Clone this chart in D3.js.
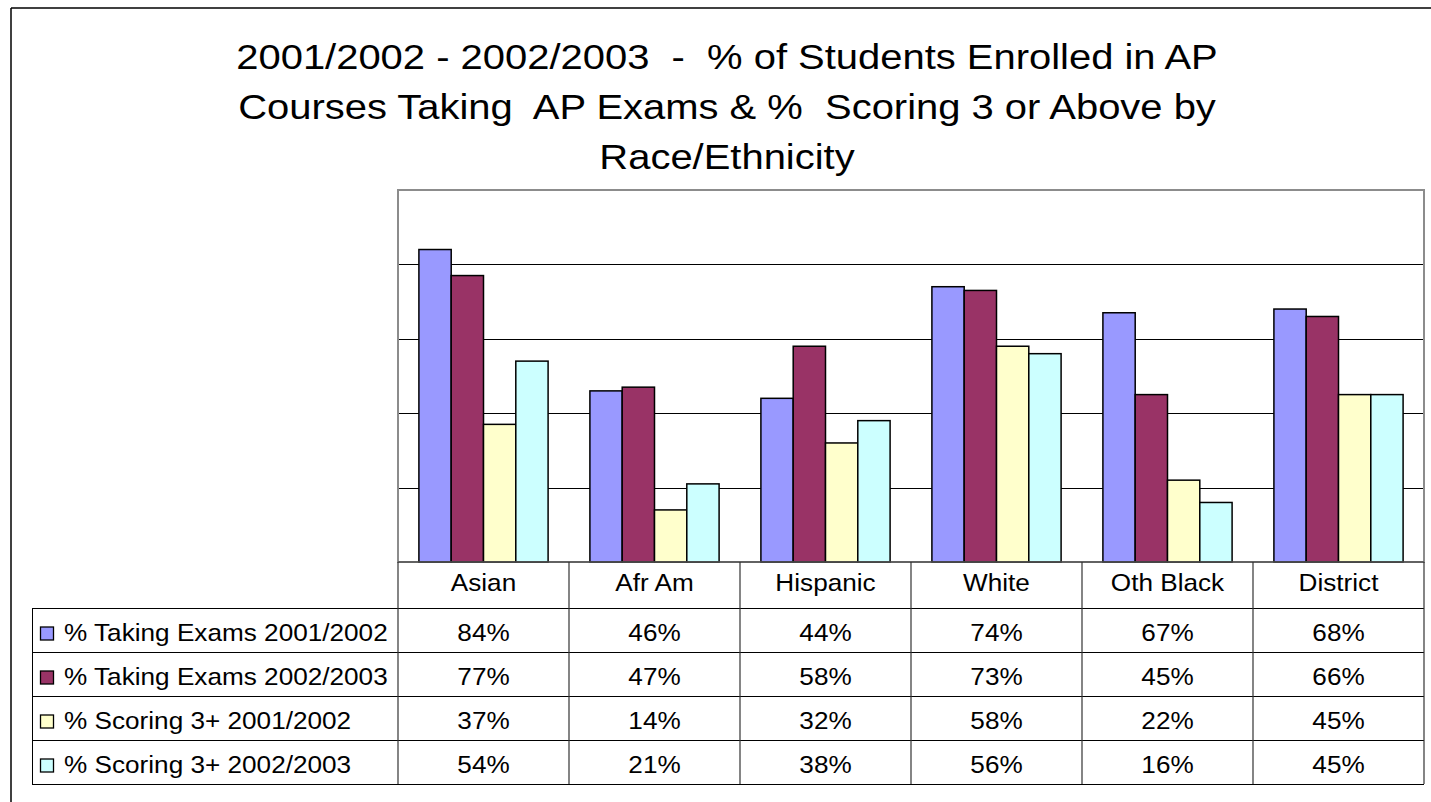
<!DOCTYPE html>
<html>
<head>
<meta charset="utf-8">
<script src="https://cdn.jsdelivr.net/npm/d3@7/dist/d3.min.js"></script>
<style>
  html, body { margin: 0; padding: 0; background: #fff; }
  svg { display: block; }
  text { font-family: Arial, "Liberation Sans", sans-serif; fill: #000; white-space: pre; }
</style>
</head>
<body>
<svg id="chart" width="1431" height="802"></svg>
<script>
// ---- data ----
const titleLines = [
  "2001/2002 - 2002/2003  -  % of Students Enrolled in AP",
  "Courses Taking  AP Exams & %  Scoring 3 or Above by",
  "Race/Ethnicity"
];
const categories = ["Asian", "Afr Am", "Hispanic", "White", "Oth Black", "District"];
const seriesNames = [
  "% Taking Exams 2001/2002",
  "% Taking Exams 2002/2003",
  "% Scoring 3+ 2001/2002",
  "% Scoring 3+ 2002/2003"
];
const taking0102 = [84, 46, 44, 74, 67, 68];
const taking0203 = [77, 47, 58, 73, 45, 66];
const scoring0102 = [37, 14, 32, 58, 22, 45];
const scoring0203 = [54, 21, 38, 56, 16, 45];
const seriesColors = ["#9999FF", "#993366", "#FFFFCC", "#CCFFFF"];
const yTicks = [0, 20, 40, 60, 80, 100];

const seriesValues = [taking0102, taking0203, scoring0102, scoring0203];

// ---- layout ----
const svg = d3.select("#chart");
const plot = { left: 398, right: 1424, top: 190, bottom: 562 };
const rowH = 44;
const tableTop = 608;
const legendLeft = 32;
const sxTitle = 1.11;
const sx = 1.09;

// outer frame (top + left edges visible)
svg.append("line").attr("x1", 11).attr("x2", 1431).attr("y1", 8).attr("y2", 8)
  .attr("stroke", "#000").attr("stroke-width", 1.5);
svg.append("line").attr("x1", 11).attr("x2", 11).attr("y1", 8).attr("y2", 802)
  .attr("stroke", "#000").attr("stroke-width", 1.5);

// title
const titleG = svg.append("g");
titleLines.forEach((t, i) => {
  titleG.append("text")
    .attr("transform", `translate(727,${69 + i * 50}) scale(${sxTitle},1)`)
    .attr("text-anchor", "middle")
    .attr("font-size", 36)
    .text(t);
});

// scales
const x0 = d3.scaleBand().domain(categories).range([plot.left, plot.right]).padding(0);
const x1 = d3.scaleBand().domain(seriesNames).range([0, x0.bandwidth()])
  .paddingInner(0).paddingOuter(0.647);
const y = d3.scaleLinear().domain([0, 100]).range([plot.bottom, plot.top]);

// gridlines
svg.append("g").selectAll("line")
  .data(yTicks.filter(d => d > 0 && d < 100))
  .join("line")
  .attr("x1", plot.left).attr("x2", plot.right)
  .attr("y1", d => Math.round(y(d)) + 0.5).attr("y2", d => Math.round(y(d)) + 0.5)
  .attr("stroke", "#000").attr("stroke-width", 1);

// plot border
svg.append("rect")
  .attr("x", plot.left).attr("y", plot.top)
  .attr("width", plot.right - plot.left).attr("height", plot.bottom - plot.top)
  .attr("fill", "none").attr("stroke", "#8c8c8c").attr("stroke-width", 2);

// bars
const barData = [];
categories.forEach((c, ci) => {
  seriesNames.forEach((s, si) => {
    barData.push({ cat: c, series: s, si, value: seriesValues[si][ci] });
  });
});
svg.append("g").selectAll("rect")
  .data(barData)
  .join("rect")
  .attr("x", d => x0(d.cat) + x1(d.series))
  .attr("y", d => y(d.value))
  .attr("width", x1.bandwidth())
  .attr("height", d => y(0) - y(d.value))
  .attr("fill", d => seriesColors[d.si])
  .attr("stroke", "#000").attr("stroke-width", 1.5);

// baseline
svg.append("line").attr("x1", plot.left).attr("x2", plot.right)
  .attr("y1", plot.bottom).attr("y2", plot.bottom)
  .attr("stroke", "#555").attr("stroke-width", 1.5);

// ---- data table ----
const tableBottom = tableTop + rowH * seriesNames.length;
const tbl = svg.append("g");
d3.range(seriesNames.length + 1).forEach(i => {
  const yy = tableTop + i * rowH + 0.5;
  tbl.append("line").attr("x1", legendLeft).attr("x2", plot.right)
    .attr("y1", yy).attr("y2", yy).attr("stroke", "#000").attr("stroke-width", 1);
});
const boundaries = categories.map(c => x0(c)).concat([plot.right]);
boundaries.forEach(bx => {
  tbl.append("line").attr("x1", bx).attr("x2", bx)
    .attr("y1", plot.bottom).attr("y2", tableBottom)
    .attr("stroke", "#333").attr("stroke-width", 1.2);
});
tbl.append("line").attr("x1", legendLeft + 0.5).attr("x2", legendLeft + 0.5)
  .attr("y1", tableTop).attr("y2", tableBottom)
  .attr("stroke", "#000").attr("stroke-width", 1);

categories.forEach(c => {
  tbl.append("text")
    .attr("transform", `translate(${x0(c) + x0.bandwidth() / 2},591) scale(${sx},1)`)
    .attr("text-anchor", "middle").attr("font-size", 24)
    .text(c);
});

seriesNames.forEach((s, si) => {
  const base = tableTop + si * rowH + 33;
  tbl.append("rect")
    .attr("x", 40.5).attr("y", base - 14).attr("width", 13).attr("height", 13)
    .attr("fill", seriesColors[si]).attr("stroke", "#000").attr("stroke-width", 1.3);
  tbl.append("text")
    .attr("transform", `translate(64,${base}) scale(${sx},1)`)
    .attr("font-size", 24)
    .text(s);
  categories.forEach((c, ci) => {
    tbl.append("text")
      .attr("transform", `translate(${x0(c) + x0.bandwidth() / 2},${base}) scale(${sx},1)`)
      .attr("text-anchor", "middle").attr("font-size", 24)
      .text(seriesValues[si][ci] + "%");
  });
});
</script>
</body>
</html>
